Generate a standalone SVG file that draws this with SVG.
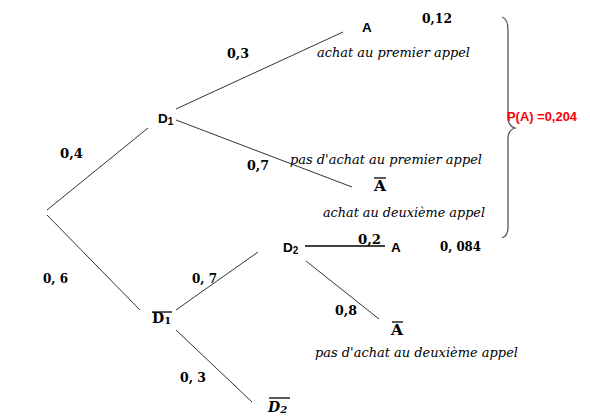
<svg xmlns="http://www.w3.org/2000/svg" width="590" height="418" viewBox="0 0 590 418">
<style>
.e{stroke:#333;stroke-width:1;fill:none}
.n{font-family:"Liberation Sans",Arial,sans-serif;font-weight:bold;font-size:13.5px;fill:#000}
.p{font-family:"DejaVu Serif","Liberation Serif",serif;font-weight:bold;font-size:13px;fill:#000}
.m{font-family:"DejaVu Serif","Liberation Serif",serif;font-weight:bold;font-size:14px;fill:#000}
.i{font-family:"DejaVu Serif","Liberation Serif",serif;font-style:italic;font-size:12.5px;fill:#000}
.ob{stroke:#000;stroke-width:1.3}
.sub{font-size:10px}
</style>
<rect width="590" height="418" fill="#fff"/>
<g id="connectors">
<line class="e" x1="47" y1="210" x2="148" y2="128"/>
<line class="e" x1="47" y1="215" x2="140" y2="310"/>
<line class="e" x1="176" y1="109" x2="343" y2="32"/>
<line class="e" x1="176" y1="120" x2="352" y2="187"/>
<line class="e" x1="176" y1="310" x2="258" y2="252"/>
<line class="e" x1="176" y1="330" x2="252" y2="402"/>
<line x1="305" y1="246" x2="385" y2="246" stroke="#000" stroke-width="1.3"/>
<line class="e" x1="306" y1="261" x2="379" y2="319"/>
</g>
<g id="edge-labels">
<text class="p" x="227" y="58" textLength="22" lengthAdjust="spacingAndGlyphs">0,3</text>
<text class="p" x="60" y="158" textLength="23" lengthAdjust="spacingAndGlyphs">0,4</text>
<text class="p" x="247" y="170" textLength="22" lengthAdjust="spacingAndGlyphs">0,7</text>
<text class="p" x="43" y="283" textLength="25" lengthAdjust="spacingAndGlyphs">0, 6</text>
<text class="p" x="192" y="283" textLength="25" lengthAdjust="spacingAndGlyphs">0, 7</text>
<text class="p" x="180" y="382" textLength="26" lengthAdjust="spacingAndGlyphs">0, 3</text>
<text class="p" x="358" y="244" textLength="23" lengthAdjust="spacingAndGlyphs">0,2</text>
<text class="p" x="335" y="315" textLength="22" lengthAdjust="spacingAndGlyphs">0,8</text>
</g>
<g id="node-D1"><text class="n" x="158" y="123">D<tspan class="sub" dy="2">1</tspan></text></g>
<g id="node-A1">
<text class="n" x="362" y="32">A</text>
<text class="p" x="422" y="23" textLength="30" lengthAdjust="spacingAndGlyphs">0,12</text>
<text class="i" x="317" y="57" textLength="153" lengthAdjust="spacingAndGlyphs">achat au premier appel</text>
</g>
<g id="node-Abar1">
<text class="i" x="290" y="164" textLength="192" lengthAdjust="spacingAndGlyphs">pas d'achat au premier appel</text>
<line class="ob" x1="374" y1="178" x2="386" y2="178"/>
<text class="m" x="374" y="191" textLength="12" lengthAdjust="spacingAndGlyphs">A</text>
<text class="i" x="323" y="217" textLength="162" lengthAdjust="spacingAndGlyphs">achat au deuxième appel</text>
</g>
<g id="brace">
<path d="M502 17 Q508 19 508 30 L508 117 Q508 126 515 128 Q508 130 508 139 L508 227 Q508 236 502 238" stroke="#555" stroke-width="1.3" fill="none"/>
<text x="507" y="121" font-family="'Liberation Sans',Arial,sans-serif" font-weight="bold" font-size="12.5" fill="#ff0000" textLength="70" lengthAdjust="spacingAndGlyphs">P(A) =0,204</text>
</g>
<g id="node-D1bar">
<line class="ob" x1="152" y1="312" x2="172" y2="312"/>
<text class="m" x="152" y="323">D<tspan class="sub" dy="1">1</tspan></text>
</g>
<g id="node-D2"><text class="n" x="283" y="252">D<tspan class="sub" dy="2">2</tspan></text></g>
<g id="node-A2">
<text class="n" x="391" y="252">A</text>
<text class="p" x="440" y="251" textLength="41" lengthAdjust="spacingAndGlyphs">0, 084</text>
</g>
<g id="node-Abar2">
<line class="ob" x1="392" y1="322" x2="403" y2="322"/>
<text class="m" x="391" y="335" textLength="12" lengthAdjust="spacingAndGlyphs">A</text>
<text class="i" x="315" y="357" textLength="203" lengthAdjust="spacingAndGlyphs">pas d'achat au deuxième appel</text>
</g>
<g id="node-D2bar">
<line class="ob" x1="269" y1="398" x2="290" y2="398"/>
<text class="m" x="268" y="412" font-style="italic">D<tspan class="sub" dy="1">2</tspan></text>
</g>
</svg>
